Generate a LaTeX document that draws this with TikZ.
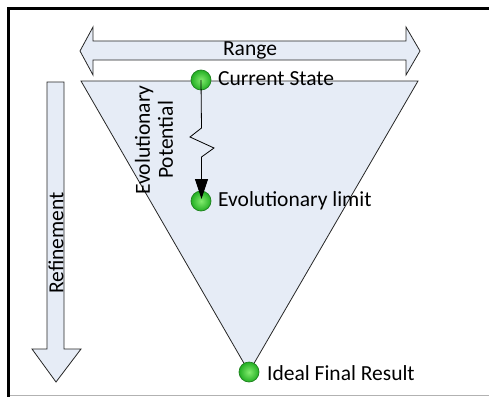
\documentclass[tikz,border=0pt]{standalone}
\usepackage{fontspec}
\setmainfont{Carlito}
\usetikzlibrary{arrows.meta}
\definecolor{shapefill}{RGB}{230,236,246}
\definecolor{ballin}{RGB}{130,235,110}
\definecolor{ballout}{RGB}{35,175,35}
\definecolor{balledge}{RGB}{30,130,30}
\begin{document}
\begin{tikzpicture}[x=1pt,y=-1pt,
  shp/.style={draw=black!85,line width=0.8pt,fill=shapefill,line join=miter},
  ball/.style={circle,minimum size=20pt,inner sep=0pt,draw=balledge,line width=0.7pt,inner color=ballin,outer color=ballout},
  lbl/.style={font=\fontsize{21.5}{23}\selectfont,inner sep=0pt,text=black}]
\useasboundingbox (0,0) rectangle (489,396);
% frame
\draw[line width=3pt] (8.5,397) -- (8.5,9) -- (489,9);
\draw[black!30,line width=0.8pt] (10,395.5) -- (489,395.5);
% range arrow
\path[shp] (80,51) -- (93,27) -- (93,41) -- (406,41) -- (406,27) -- (420,51) -- (406,75) -- (406,60) -- (93,60) -- (93,75) -- cycle;
\node[lbl] (range) at (250,50) {Range};
% refinement arrow
\path[shp] (47,82) -- (64,82) -- (64,349) -- (81,349) -- (56,382) -- (32,349) -- (47,349) -- cycle;
\node[lbl,rotate=90] (refine) at (56,243) {Refinement};
% triangle
\path[shp] (81,81) -- (418,81) -- (249,372) -- cycle;
\node[lbl,rotate=90,align=center] (potential) at (154,140) {Evolutionary\\Potential};
% balls
\node[ball] (cs) at (201,80) {};
\node[ball] (el) at (201,201) {};
\node[ball] (ifr) at (249,372) {};
\node[lbl,anchor=west] (cst) at (218,79) {Current State};
\node[lbl,anchor=west] (elt) at (218,201) {Evolutionary limit};
\node[lbl,anchor=west] (ifrt) at (267,373) {Ideal Final Result};
% zigzag arrow
\coordinate (tip) at (201.5,199);
\draw[black,line width=0.8pt,-{Triangle[length=20pt,width=13pt]}]
  (cs.center) -- (201.5,128) -- (190,137) -- (214,148) -- (201.5,157) -- (tip);
\end{tikzpicture}
\end{document}
